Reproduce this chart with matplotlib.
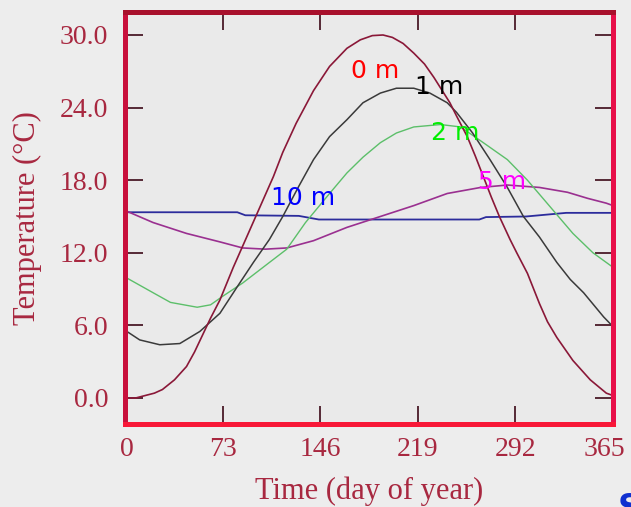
import matplotlib
matplotlib.use('Agg')
import matplotlib.pyplot as plt
import matplotlib.transforms as mtransforms

# soil temperature through the year at several depths
days_0m = [0, 8, 15, 22, 28, 37, 46, 52, 58, 64, 71, 81, 91, 101, 111, 118, 128, 141,
           153, 166, 176, 185, 193, 200, 208, 216, 224, 231, 243, 248, 256, 262, 268,
           274, 280, 288, 293, 301, 310, 316, 323, 335, 348, 360, 365]
temp_0m = [0.0, 0.0, 0.2, 0.4, 0.7, 1.5, 2.6, 3.8, 5.2, 6.6, 8.1, 10.8, 13.3, 15.8, 18.3,
           20.3, 22.7, 25.4, 27.4, 28.9, 29.6, 29.95, 30.0, 29.8, 29.3, 28.5, 27.6, 26.5,
           24.4, 23.3, 21.6, 20.0, 18.3, 16.6, 15.0, 13.1, 12.0, 10.3, 7.8, 6.3, 5.0, 3.1,
           1.5, 0.4, 0.2]

days_1m = [0, 11, 26, 41, 56, 71, 84, 96, 108, 118, 130, 141, 153, 166, 178, 191, 203,
           216, 228, 241, 248, 260, 273, 286, 298, 310, 323, 333, 343, 358, 365]
temp_1m = [5.6, 4.8, 4.4, 4.5, 5.5, 7.0, 9.2, 11.2, 13.1, 15.0, 17.5, 19.7, 21.6, 23.0,
           24.4, 25.2, 25.6, 25.6, 25.2, 24.4, 23.6, 21.9, 19.7, 17.4, 15.0, 13.3, 11.2,
           9.8, 8.7, 6.7, 5.9]

days_2m = [0, 21, 34, 54, 64, 73, 88, 108, 121, 135, 153, 166, 178, 191, 203, 216, 236,
           251, 268, 286, 301, 318, 335, 350, 365]
temp_2m = [10.0, 8.7, 7.9, 7.5, 7.7, 8.4, 9.5, 11.2, 12.3, 14.5, 16.9, 18.6, 19.9, 21.1,
           21.9, 22.4, 22.6, 22.4, 21.1, 19.7, 18.0, 15.8, 13.6, 12.0, 10.8]

days_5m = [0, 21, 46, 71, 88, 105, 121, 141, 166, 191, 216, 241, 266, 286, 310, 331, 346,
           360, 365]
temp_5m = [15.5, 14.5, 13.6, 12.9, 12.4, 12.3, 12.4, 13.0, 14.1, 15.0, 15.9, 16.9, 17.4,
           17.6, 17.4, 17.0, 16.5, 16.1, 15.9]

days_10m = [0, 84, 90, 130, 145, 265, 270, 300, 330, 365]
temp_10m = [15.35, 15.35, 15.1, 15.05, 14.75, 14.75, 14.95, 15.0, 15.3, 15.3]

x_ticks = [0, 73, 146, 219, 292, 365]
y_ticks = [0.0, 6.0, 12.0, 18.0, 24.0, 30.0]

# label text, colour, position (day, temp)
labels = [("0 m", "#ff0000", 187, 27.0),
          ("1 m", "#000000", 235, 25.7),
          ("2 m", "#00ee00", 247, 21.9),
          ("5 m", "#ff00ff", 282, 17.85),
          ("10 m", "#0000ff", 133, 16.5)]

fig = plt.figure(figsize=(6.31, 5.07), dpi=100, facecolor='#ededed')
ax = fig.add_axes([125/631, 1 - 424/507, 488/631, 412/507])
ax.set_facecolor('#eaeaea')

ax.plot(days_10m, temp_10m, color='#2c2c9c', lw=1.3)
ax.plot(days_5m, temp_5m, color='#9a3090', lw=1.2)
ax.plot(days_2m, temp_2m, color='#5cbf6a', lw=1.0)
ax.plot(days_1m, temp_1m, color='#3a3a3a', lw=1.1)
ax.plot(days_0m, temp_0m, color='#8a1838', lw=1.2)

for txt, col, x, y in labels:
    ax.text(x, y, txt, color=col, fontsize=18, ha='center', va='center',
            family='DejaVu Sans')

ax.set_xlim(0, 365)
ax.set_ylim(-2.15, 31.9)
ax.set_xticks(x_ticks)
ax.set_yticks(y_ticks)
ax.set_xticklabels([str(t) for t in x_ticks])
ax.set_yticklabels(['%.1f' % t for t in y_ticks])

serif = 'Liberation Serif'
lab_col = '#a82840'
ax.tick_params(direction='in', length=13, width=1.3, color='#4a1a28',
               top=True, right=True, labelsize=20, labelcolor=lab_col)
ax.tick_params(axis='x', pad=9)
ax.tick_params(axis='y', pad=12)
for lab in ax.get_xticklabels() + ax.get_yticklabels():
    lab.set_family(serif)

# first and last x labels sit a little inside, as in the original
xlabs = ax.get_xticklabels()
xlabs[0].set_transform(xlabs[0].get_transform() +
                       mtransforms.ScaledTranslation(2/100, 0, fig.dpi_scale_trans))
xlabs[-1].set_transform(xlabs[-1].get_transform() +
                        mtransforms.ScaledTranslation(-9/100, 0, fig.dpi_scale_trans))

ax.spines['left'].set_color('#c8103c')
ax.spines['top'].set_color('#a8102c')
ax.spines['right'].set_color('#e8104a')
ax.spines['bottom'].set_color('#f81838')
for s in ax.spines.values():
    s.set_linewidth(3.6)

ax.set_xlabel('Time (day of year)', family=serif, fontsize=22, color=lab_col, labelpad=11)
ax.set_ylabel('Temperature (\u00b0C)', family=serif, fontsize=22, color=lab_col, labelpad=13)

# stray blue letter cut by the lower right edge
fig.text(618/631, 1 - 492/507, 'S', color='#1030d0', fontsize=24, fontweight='bold',
         ha='left', va='top')

fig.savefig('out.png', dpi=100, facecolor=fig.get_facecolor())
